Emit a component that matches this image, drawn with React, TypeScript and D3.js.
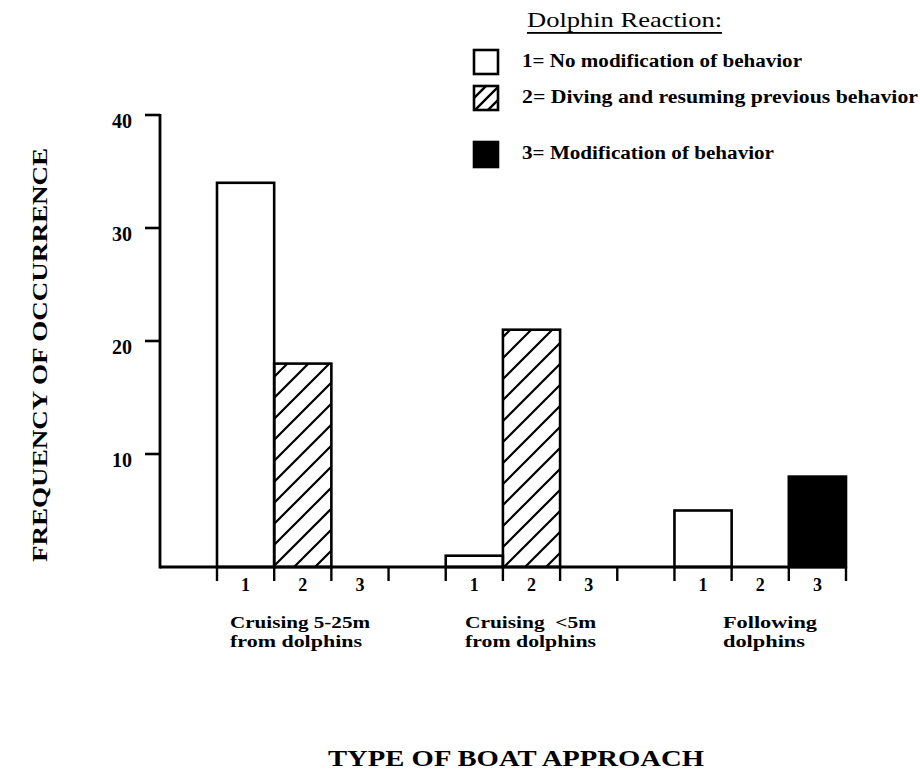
import React from "react";
import * as d3 from "d3";

// ---- data ----
const reactionCodes = ["1", "2", "3"];
const approachLabels = [
  ["Cruising 5-25m", "from dolphins"],
  ["Cruising  <5m", "from dolphins"],
  ["Following", "dolphins"],
];
const noModification = [34, 1, 5];
const divingResuming = [18, 21, 0];
const modification = [0, 0, 8];
const yTickValues = [10, 20, 30, 40];
const legendLabels = [
  "1= No modification of behavior",
  "2= Diving and resuming previous behavior",
  "3= Modification of behavior",
];
const legendTitle = "Dolphin Reaction:";
const yTitle = "FREQUENCY OF OCCURRENCE";
const xTitle = "TYPE OF BOAT APPROACH";

// ---- layout (not data) ----
const W = 920;
const H = 774;
const FONT = "'Liberation Serif', 'DejaVu Serif', serif";
const groupLabelLeft = [230, 465, 723];
const groupLabelWidths = [
  [140, 132],
  [131, 131],
  [94, 82],
];
const legendBoxY = [50, 86, 142];
const legendWidths = [280, 396, 252];

export default function App() {
  const series = [noModification, divingResuming, modification];
  const fills = ["#fff", "url(#hatch)", "#000"];

  // slots: 3 per group + 1 gap between groups
  const slots: string[] = [];
  approachLabels.forEach((_, g) => {
    reactionCodes.forEach((r) => slots.push(`g${g}-${r}`));
    if (g < approachLabels.length - 1) slots.push(`gap${g}`);
  });

  const x = d3.scaleBand<string>().domain(slots).range([217, 846]).padding(0);
  const y = d3.scaleLinear().domain([0, 40]).range([567, 115]);
  const bw = x.bandwidth();
  const axisX = 160;
  const y0 = y(0);

  const tickXs = [...slots.map((s) => x(s) as number), 846];

  const bars: { key: string; x: number; y: number; h: number; fill: string }[] = [];
  approachLabels.forEach((_, g) => {
    reactionCodes.forEach((r, ri) => {
      const v = series[ri][g];
      if (v > 0) {
        const xs = x(`g${g}-${r}`) as number;
        bars.push({ key: `${g}-${r}`, x: xs, y: y(v), h: y0 - y(v), fill: fills[ri] });
      }
    });
  });

  return (
    <svg
      width={W}
      height={H}
      style={{ position: "absolute", left: 0, top: 0, background: "#fff" }}
      fontFamily={FONT}
    >
      <defs>
        <pattern id="hatch" patternUnits="userSpaceOnUse" width={21} height={21}>
          <path d="M-2,23 L23,-2 M-12,12 L12,-12 M9,33 L33,9" stroke="#000" strokeWidth={2.2} />
        </pattern>
        <pattern id="hatchSmall" patternUnits="userSpaceOnUse" width={13} height={13} x={473} y={86}>
          <path d="M-2,15 L15,-2 M-8,8 L8,-8 M5,21 L21,5" stroke="#000" strokeWidth={2.4} />
        </pattern>
      </defs>
      <rect width={W} height={H} fill="#fff" />

      {/* bars */}
      {bars.map((b) => (
        <rect
          key={b.key}
          x={b.x}
          y={b.y}
          width={bw}
          height={b.h}
          fill={b.fill}
          stroke="#000"
          strokeWidth={2.6}
        />
      ))}

      {/* axes */}
      <line x1={axisX} x2={846} y1={y0} y2={y0} stroke="#000" strokeWidth={2.8} />
      <line x1={axisX} x2={axisX} y1={y(40) - 1} y2={y0 + 1.4} stroke="#000" strokeWidth={2.8} />

      {yTickValues.map((t) => (
        <g key={t}>
          <line x1={axisX - 15} x2={axisX} y1={y(t)} y2={y(t)} stroke="#000" strokeWidth={2.6} />
          <text x={132} y={y(t) + 13} textAnchor="end" fontSize={20} fontWeight="bold">
            {t}
          </text>
        </g>
      ))}

      {tickXs.map((tx, i) => (
        <line key={i} x1={tx} x2={tx} y1={y0} y2={y0 + 14} stroke="#000" strokeWidth={2.4} />
      ))}

      {approachLabels.map((_, g) =>
        reactionCodes.map((r) => (
          <text
            key={`${g}-${r}`}
            x={(x(`g${g}-${r}`) as number) + bw / 2}
            y={591}
            textAnchor="middle"
            fontSize={18}
            fontWeight="bold"
          >
            {r}
          </text>
        ))
      )}

      {approachLabels.map((lines, g) =>
        lines.map((ln, li) => (
          <text
            key={`${g}-${li}`}
            x={groupLabelLeft[g]}
            y={628 + li * 19}
            fontSize={16}
            fontWeight="bold"
            textLength={groupLabelWidths[g][li]}
            lengthAdjust="spacingAndGlyphs"
            style={{ whiteSpace: "pre" }}
          >
            {ln}
          </text>
        ))
      )}

      {/* axis titles */}
      <text
        transform={`translate(47,355) rotate(-90)`}
        textAnchor="middle"
        fontSize={22}
        fontWeight="bold"
        textLength={414}
        lengthAdjust="spacingAndGlyphs"
      >
        {yTitle}
      </text>
      <text
        x={516}
        y={766}
        textAnchor="middle"
        fontSize={23}
        fontWeight="bold"
        textLength={376}
        lengthAdjust="spacingAndGlyphs"
      >
        {xTitle}
      </text>

      {/* legend */}
      <text x={527} y={27} fontSize={22} textLength={195} lengthAdjust="spacingAndGlyphs">
        {legendTitle}
      </text>
      <rect x={527} y={32} width={195} height={1.8} fill="#000" />
      {legendLabels.map((lab, i) => {
        const by = legendBoxY[i];
        return (
          <g key={i}>
            <rect
              x={474}
              y={by}
              width={24}
              height={i === 2 ? 25 : 24}
              fill={i === 0 ? "#fff" : i === 1 ? "url(#hatchSmall)" : "#000"}
              stroke="#000"
              strokeWidth={2.6}
            />
            <text
              x={522}
              y={by + 17}
              fontSize={18}
              fontWeight={600}
              textLength={legendWidths[i]}
              lengthAdjust="spacingAndGlyphs"
            >
              {lab}
            </text>
          </g>
        );
      })}
    </svg>
  );
}
